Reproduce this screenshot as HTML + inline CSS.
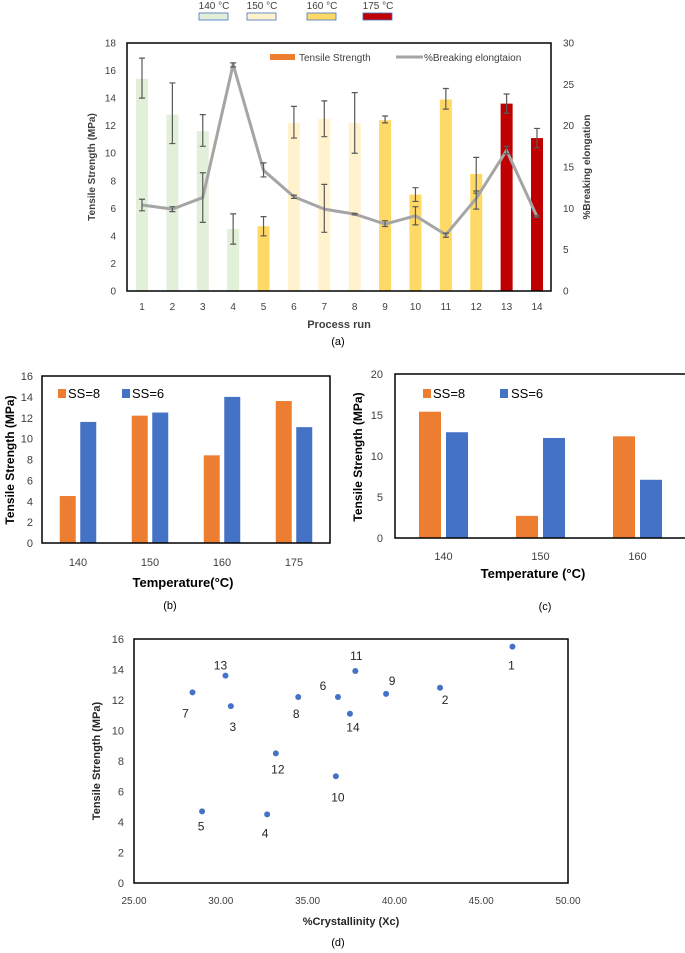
<!DOCTYPE html>
<html><head><meta charset="utf-8"><style>
body{margin:0;background:#fff;}
svg{display:block;font-family:"Liberation Sans",sans-serif;}
</style></head><body>
<svg id="s" width="685" height="953" viewBox="0 0 685 953"></svg>
<script>
// ---- chart (a) data
const runs=[1,2,3,4,5,6,7,8,9,10,11,12,13,14];
const tensile=[15.4,12.8,11.6,4.5,4.7,12.2,12.5,12.2,12.4,7.0,13.9,8.5,13.6,11.1];
const tensLo=[14.0,10.7,10.5,3.4,4.0,11.1,11.2,10.0,12.2,6.5,13.2,7.1,12.9,10.4];
const tensHi=[16.9,15.1,12.8,5.6,5.4,13.4,13.8,14.4,12.7,7.5,14.7,9.7,14.3,11.8];
const temps=[140,140,140,140,160,150,150,150,160,160,160,160,175,175];
const elong=[10.4,9.9,11.3,27.4,14.6,11.4,9.9,9.3,8.1,9.1,6.8,11.2,17.0,9.0];
const elLo=[9.7,9.6,8.3,27.1,13.8,11.2,7.1,9.2,7.8,8.0,6.5,9.9,16.6,8.9];
const elHi=[11.1,10.2,14.3,27.6,15.5,11.6,12.9,9.4,8.5,10.2,7.0,12.1,17.5,9.1];
const tempLegend=["140 °C","150 °C","160 °C","175 °C"];
const leftTicks=[0,2,4,6,8,10,12,14,16,18];
const rightTicks=[0,5,10,15,20,25,30];
// ---- chart (b)
const bCats=["140","150","160","175"];
const bSS8=[4.5,12.2,8.4,13.6];
const bSS6=[11.6,12.5,14.0,11.1];
const bTicks=[0,2,4,6,8,10,12,14,16];
// ---- chart (c)
const cCats=["140","150","160"];
const cSS8=[15.4,2.7,12.4];
const cSS6=[12.9,12.2,7.1];
const cTicks=[0,5,10,15,20];
// ---- chart (d)
const dLabels=["1","2","3","4","5","6","7","8","9","10","11","12","13","14"];
const dX=[46.8,42.63,30.58,32.67,28.92,36.75,28.37,34.46,39.52,36.63,37.75,33.17,30.27,37.44];
const dY=[15.5,12.8,11.6,4.5,4.7,12.2,12.5,12.2,12.4,7.0,13.9,8.5,13.6,11.1];
const dXTicks=[25,30,35,40,45,50];
const dYTicks=[0,2,4,6,8,10,12,14,16];

const S=document.getElementById('s');const NS="http://www.w3.org/2000/svg";
function el(tag,attrs,name,txt){const e=document.createElementNS(NS,tag);for(const k in attrs)e.setAttribute(k,attrs[k]);


if(txt!==undefined)e.textContent=txt;S.appendChild(e);return e;}
function txt(x,y,t,name,o){o=o||{};return el('text',{x:x,y:y,'font-size':o.fs||10,'text-anchor':o.a||'middle',fill:o.fill||'#404040','font-weight':o.w||'normal',transform:o.tr||''},name,t);}
const tcol={140:"#e2efd9",150:"#fff2cc",160:"#ffd966",175:"#c00000"};

// ===== (a)
{const L=127,R=551,T=43,B=291;
const xa=i=>142+(537-142)*i/13;const ya=v=>B-(B-T)*v/18;const yr=v=>B-(B-T)*v/30;
tempLegend.forEach((t,i)=>{const bx=[199,247,307,363][i];
el('rect',{x:bx,y:13,width:29,height:7,fill:tcol[[140,150,160,175][i]],stroke:'#4472c4','stroke-width':0.8},'temp-legend-swatch');
txt(bx+15,9,t,'temp-legend-label',{fs:10});});
runs.forEach((r,i)=>{const x=xa(i);el('rect',{x:x-6,y:ya(tensile[i]),width:12,height:ya(0)-ya(tensile[i]),fill:tcol[temps[i]]},'bar-run-'+r);});
runs.forEach((r,i)=>{const x=xa(i);const p=`M${x},${ya(tensLo[i])}V${ya(tensHi[i])}M${x-3},${ya(tensLo[i])}h6M${x-3},${ya(tensHi[i])}h6`;
el('path',{d:p,stroke:'#595959','stroke-width':1.2,fill:'none'},'tensile-error-bar');});
el('polyline',{points:elong.map((v,i)=>xa(i)+','+yr(v)).join(' '),fill:'none',stroke:'#a5a5a5','stroke-width':3,'stroke-linejoin':'round'},'elongation-line');
runs.forEach((r,i)=>{const x=xa(i);const p=`M${x},${yr(elLo[i])}V${yr(elHi[i])}M${x-3},${yr(elLo[i])}h6M${x-3},${yr(elHi[i])}h6`;
el('path',{d:p,stroke:'#595959','stroke-width':1.2,fill:'none'},'elongation-error-bar');});
el('rect',{x:L,y:T,width:R-L,height:B-T,fill:'none',stroke:'#000','stroke-width':1.5},'plot-frame-a');
leftTicks.forEach(v=>txt(116,ya(v)+3.5,v,'y-tick-left',{a:'end'}));
rightTicks.forEach(v=>txt(563,yr(v)+3.5,v,'y-tick-right',{a:'start'}));
runs.forEach((r,i)=>txt(xa(i),310,r,'x-tick-a'));
txt(339,328,'Process run','x-axis-title-a',{w:'bold',fs:11});
txt(338,345,'(a)','caption-a',{fs:11,fill:'#000'});
txt(95,167,'Tensile Strength (MPa)','y-axis-title-left-a',{w:'bold',tr:'rotate(-90 95 167)'});
txt(590,167,'%Breaking elongation','y-axis-title-right-a',{w:'bold',tr:'rotate(-90 590 167)'});
el('rect',{x:270,y:54,width:25,height:6,fill:'#ed7d31'},'legend-tensile-swatch');
txt(299,61,'Tensile Strength','legend-tensile-label',{a:'start'});
el('line',{x1:396,y1:57,x2:423,y2:57,stroke:'#a5a5a5','stroke-width':3},'legend-elongation-swatch');
txt(424,61,'%Breaking elongtaion','legend-elongation-label',{a:'start'});}

// ===== grouped bars helper
function grouped(cfg){const{L,R,T,B,max,cats,s8,s6,ticks,bw,gap,tag}=cfg;
const y=v=>B-(B-T)*v/max;const cw=(R-L)/cats.length;const cx=i=>L+cw*(i+0.5);
cats.forEach((c,i)=>{el('rect',{x:cx(i)-gap/2-bw,y:y(s8[i]),width:bw,height:y(0)-y(s8[i]),fill:'#ed7d31'},'bar-ss8-'+c);
el('rect',{x:cx(i)+gap/2,y:y(s6[i]),width:bw,height:y(0)-y(s6[i]),fill:'#4472c4'},'bar-ss6-'+c);
txt(cx(i),cfg.xty,c,'x-tick-'+tag,{fs:11});});
el('rect',{x:L,y:T,width:R-L,height:B-T,fill:'none',stroke:'#000','stroke-width':1.5},'plot-frame-'+tag);
ticks.forEach(v=>txt(cfg.ytx,y(v)+4,v,'y-tick-'+tag,{a:'end',fs:11}));}
grouped({L:42,R:330,T:376,B:543,max:16,cats:bCats,s8:bSS8,s6:bSS6,ticks:bTicks,bw:16,gap:4.5,tag:'b',xty:566,ytx:33});
el('rect',{x:58,y:389,width:8,height:9,fill:'#ed7d31'},'legend-ss8-swatch-b');txt(68,398,'SS=8','legend-ss8-label-b',{a:'start',fs:13,fill:'#000'});
el('rect',{x:122,y:389,width:8,height:9,fill:'#4472c4'},'legend-ss6-swatch-b');txt(132,398,'SS=6','legend-ss6-label-b',{a:'start',fs:13,fill:'#000'});
txt(183,587,'Temperature(°C)','x-axis-title-b',{w:'bold',fs:13,fill:'#000'});
txt(170,609,'(b)','caption-b',{fs:11,fill:'#000'});
txt(14,460,'Tensile Strength (MPa)','y-axis-title-b',{w:'bold',fs:12,fill:'#000',tr:'rotate(-90 14 460)'});

grouped({L:395,R:686,T:374,B:538,max:20,cats:cCats,s8:cSS8,s6:cSS6,ticks:cTicks,bw:22,gap:5,tag:'c',xty:560,ytx:383});
el('rect',{x:423,y:389,width:8,height:9,fill:'#ed7d31'},'legend-ss8-swatch-c');txt(433,398,'SS=8','legend-ss8-label-c',{a:'start',fs:13,fill:'#000'});
el('rect',{x:500,y:389,width:8,height:9,fill:'#4472c4'},'legend-ss6-swatch-c');txt(511,398,'SS=6','legend-ss6-label-c',{a:'start',fs:13,fill:'#000'});
txt(533,578,'Temperature (°C)','x-axis-title-c',{w:'bold',fs:13,fill:'#000'});
txt(545,610,'(c)','caption-c',{fs:11,fill:'#000'});
txt(362,457,'Tensile Strength (MPa)','y-axis-title-c',{w:'bold',fs:12,fill:'#000',tr:'rotate(-90 362 457)'});

// ===== (d)
{const L=134,R=568,T=639,B=883;const x=v=>L+(R-L)*(v-25)/25;const y=v=>B-(B-T)*v/16;
const off=[[-1,19],[5,12],[2,21],[-2,19],[-1,15],[-15,-11],[-7,21],[-2,17],[6,-13],[2,21],[1,-15],[2,16],[-5,-10],[3,14]];
el('rect',{x:L,y:T,width:R-L,height:B-T,fill:'none',stroke:'#000','stroke-width':1.5},'plot-frame-d');
dX.forEach((v,i)=>{el('circle',{cx:x(v),cy:y(dY[i]),r:3,fill:'#4472c4'},'point-run-'+dLabels[i]);
txt(x(v)+off[i][0],y(dY[i])+off[i][1]+4,dLabels[i],'point-label',{fs:12,fill:'#262626'});});
dXTicks.forEach(v=>txt(x(v),904,v.toFixed(2),'x-tick-d'));
dYTicks.forEach(v=>txt(124,y(v)+4,v,'y-tick-d',{a:'end',fs:11}));
txt(351,925,'%Crystallinity (Xc)','x-axis-title-d',{w:'bold',fs:11,fill:'#262626'});
txt(338,946,'(d)','caption-d',{fs:11,fill:'#000'});
txt(100,761,'Tensile Strength (MPa)','y-axis-title-d',{w:'bold',fs:11,fill:'#262626',tr:'rotate(-90 100 761)'});}
</script>
</body></html>
